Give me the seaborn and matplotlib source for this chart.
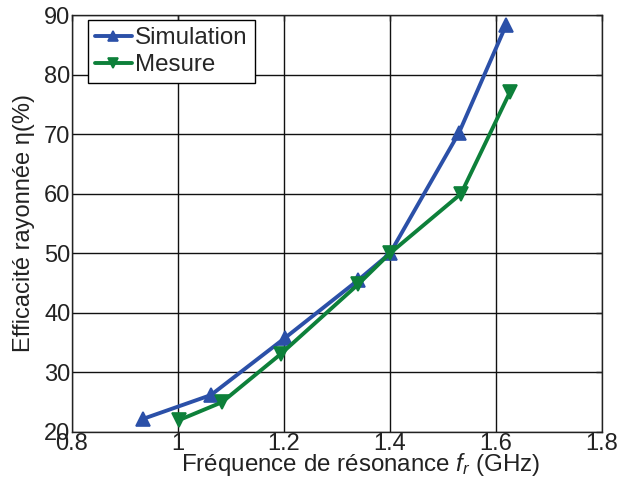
import matplotlib
matplotlib.use("Agg")
import matplotlib.pyplot as plt
import seaborn as sns
import pandas as pd

# Radiation efficiency versus resonance frequency
sim_freq = [0.934, 1.062, 1.202, 1.34, 1.40, 1.530, 1.619]
sim_eff = [22.2, 26.2, 35.8, 45.5, 50.0, 70.2, 88.3]
mes_freq = [1.002, 1.083, 1.194, 1.34, 1.40, 1.534, 1.626]
mes_eff = [22.0, 25.0, 33.1, 44.8, 50.0, 60.0, 77.0]

xticks = [0.8, 1.0, 1.2, 1.4, 1.6, 1.8]
xticklabels = ["0.8", "1", "1.2", "1.4", "1.6", "1.8"]
yticks = [20, 30, 40, 50, 60, 70, 80, 90]

df = pd.concat([
    pd.DataFrame({"f": sim_freq, "eta": sim_eff, "serie": "Simulation"}),
    pd.DataFrame({"f": mes_freq, "eta": mes_eff, "serie": "Mesure"}),
])

sns.set_theme(style="white")
plt.rcParams["font.family"] = ["Liberation Sans", "DejaVu Sans"]
plt.rcParams["mathtext.fontset"] = "custom"
plt.rcParams["mathtext.it"] = "Liberation Sans:italic"
plt.rcParams["mathtext.rm"] = "Liberation Sans"

fig = plt.figure(figsize=(6.2, 4.82), dpi=100)
ax = fig.add_axes([72 / 620, 1 - 432 / 482, 530 / 620, 417 / 482])

palette = {"Simulation": "#2b50a8", "Mesure": "#0d803a"}
markers = {"Simulation": "^", "Mesure": "v"}
sns.lineplot(data=df, x="f", y="eta", hue="serie", style="serie",
             palette=palette, markers=markers, dashes=False, sort=False,
             markersize=10, linewidth=2.8, markeredgewidth=1.2,
             ax=ax, legend=True)
for ln in ax.lines:
    ln.set_markeredgecolor(ln.get_color())

ax.set_xlim(0.8, 1.8)
ax.set_ylim(20, 90)
ax.set_xticks(xticks)
ax.set_xticklabels(xticklabels)
ax.set_yticks(yticks)
ax.grid(True, color="#111111", linewidth=1.0, linestyle="-")
ax.tick_params(direction="in", top=True, right=True, length=4, width=1,
               labelsize=17, pad=1, colors="#222222")
for s in ax.spines.values():
    s.set_color("#222222")
    s.set_linewidth(1.0)

ax.set_xlabel("Fréquence de résonance $f_r$ (GHz)", fontsize=17.4, color="#222222")
ax.xaxis.set_label_coords(0.545, -0.045, transform=ax.transAxes)
ax.xaxis.label.set_va("top")
ax.set_ylabel("Efficacité rayonnée η(%)", fontsize=17, labelpad=7, color="#222222")

leg = ax.legend(loc="upper left", bbox_to_anchor=(16 / 530, 1 - 5 / 417),
                fontsize=17.4, frameon=True, fancybox=False,
                borderaxespad=0.0, handlelength=1.5, handletextpad=0.15,
                labelspacing=0.2, borderpad=0.3)
leg.get_frame().set_edgecolor("black")
leg.get_frame().set_linewidth(1.0)
leg.get_frame().set_alpha(1)
for h in leg.get_lines():
    h.set_markeredgecolor(h.get_color())
    h.set_linewidth(2.8)
    h.set_markersize(7)

fig.savefig("out.png", dpi=100)
